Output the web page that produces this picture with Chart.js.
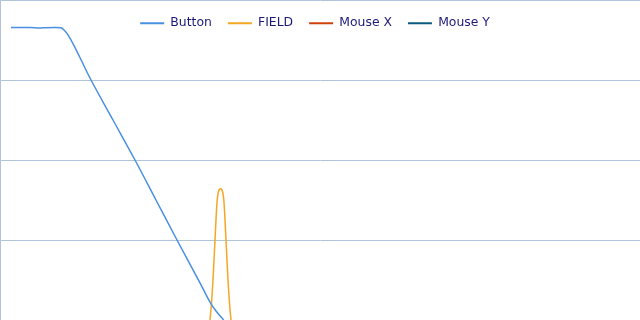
<!DOCTYPE html>
<html>
<head>
<meta charset="utf-8">
<script src="https://cdn.jsdelivr.net/npm/chart.js@4/dist/chart.umd.min.js"></script>
<style>
html,body{margin:0;padding:0;background:#fff;}
#wrap{width:640px;height:320px;}
</style>
</head>
<body>
<div id="wrap"><canvas id="c" width="640" height="320"></canvas></div>
<script>
// Series names
const seriesNames = ["Button", "FIELD", "Mouse X", "Mouse Y"];
// Button series (x = time units, y = value)
const buttonT = [1.1, 3.0, 4.0, 4.5, 5.5, 6.1, 6.4, 6.8, 9.1, 11.3, 13.5, 15.6, 17.7, 20.0, 21.0, 21.6, 22.2, 22.8, 30, 64];
const buttonV = [91.4, 91.4, 91.25, 91.35, 91.4, 91.3, 90.6, 89.1, 75, 62.5, 50, 37.5, 25, 11.6, 5.6, 2.8, 0.6, -1.5, -3, -3];
// FIELD series
const fieldT = [0, 19.5, 20.5, 21.0, 21.3, 21.5, 21.72, 22.05, 22.38, 22.6, 22.8, 23.1, 23.6, 24.6, 64];
const fieldV = [-20, -20, -8, 0, 12.5, 25, 37.5, 41, 37.5, 25, 12.5, 0, -8, -20, -20];
// Mouse X / Mouse Y series (not visible in range)
const mouseXT = [];
const mouseXV = [];
const mouseYT = [];
const mouseYV = [];
// Axis ranges
const xRange = [0, 64];
const yRange = [0, 100];
const yStep = 25;

const colors = ["#4a90e2", "#f5a623", "#d0400b", "#0b5a80"];
const toPts = (t, v) => t.map((x, i) => ({x: x, y: v[i]}));
const seriesT = [buttonT, fieldT, mouseXT, mouseYT];
const seriesV = [buttonV, fieldV, mouseXV, mouseYV];

const gridColor = "#b0c4de";

// Make the legend overlay the plot area instead of reserving space
const overlayLegend = {
  id: "overlayLegend",
  beforeInit(chart) {
    const lg = chart.legend;
    if (!lg) return;
    const origFit = lg.fit;
    lg.fit = function () {
      origFit.call(this);
      this._realHeight = this.height;
      this.height = 0;
    };
  },
  afterLayout(chart) {
    const lg = chart.legend;
    if (!lg || lg._realHeight === undefined) return;
    lg.top = lg.top + 1;
    lg.height = lg._realHeight;
    lg.bottom = lg.top + lg._realHeight;
    lg.right = lg.right - 10;
    lg.width = lg.right - lg.left;
  }
};

new Chart(document.getElementById("c"), {
  type: "line",
  data: {
    datasets: seriesNames.map((n, i) => ({
      label: n,
      data: toPts(seriesT[i], seriesV[i]),
      borderColor: colors[i],
      backgroundColor: colors[i],
      borderWidth: 1.5,
      pointRadius: 0,
      pointStyle: "line",
      cubicInterpolationMode: "monotone",
      fill: false
    }))
  },
  plugins: [overlayLegend],
  options: {
    responsive: false,
    animation: false,
    layout: {padding: 0},
    plugins: {
      tooltip: {enabled: false},
      legend: {
        position: "top",
        align: "center",
        labels: {
          usePointStyle: true,
          pointStyle: "line",
          pointStyleWidth: 24,
          boxHeight: 14,
          padding: 16,
          color: "#1c1a78",
          font: {family: "DejaVu Sans", size: 12.4},
          generateLabels: (chart) => {
            const items = Chart.defaults.plugins.legend.labels.generateLabels(chart);
            items.forEach(it => { it.lineWidth = 2; });
            return items;
          }
        }
      }
    },
    scales: {
      x: {
        type: "linear",
        min: xRange[0],
        max: xRange[1],
        ticks: {display: false, stepSize: xRange[1] - xRange[0]},
        grid: {
          drawTicks: false,
          color: (ctx) => (ctx.tick && ctx.tick.value === xRange[1]) ? gridColor : "transparent"
        },
        border: {display: true, color: gridColor}
      },
      y: {
        min: yRange[0],
        max: yRange[1],
        ticks: {display: false, stepSize: yStep},
        grid: {drawTicks: false, color: gridColor},
        border: {display: true, color: gridColor}
      }
    }
  }
});
</script>
</body>
</html>
